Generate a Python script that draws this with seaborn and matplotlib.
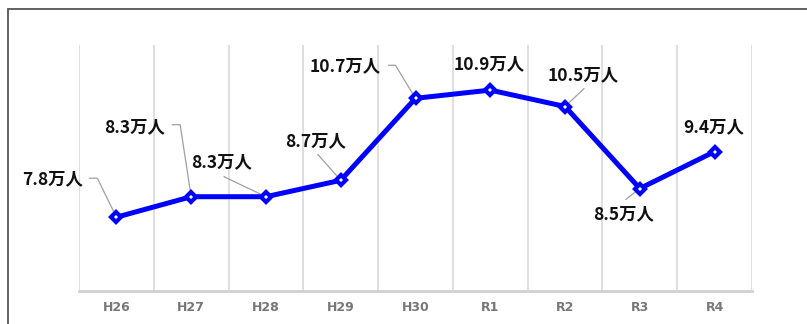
import math
import matplotlib
matplotlib.use("Agg")
import matplotlib.pyplot as plt
import numpy as np
import pandas as pd
import seaborn as sns
from matplotlib.patches import Rectangle

# data
periods = ["H26", "H27", "H28", "H29", "H30", "R1", "R2", "R3", "R4"]
visitors = [7.8, 8.3, 8.3, 8.7, 10.7, 10.9, 10.5, 8.5, 9.4]   # 万人
labels = [f"{v}万人" for v in visitors]

# label placement (pixels relative to the point) and leader start / elbow length
text_off = [(-64, 38), (-57, 69), (-44, 34), (-25, 39), (-70, 32), (-1, 26), (18, 31), (-16, -26), (-1, 24)]
leader = [((-27, 39), 8), ((-19, 72), 8), ((-42, 20), 0), ((-23, 26), 0), ((-27, 33), 7),
          None, ((19, 18), 0), ((-14, -11), 0), None]

sns.set_theme(style="white")
plt.rcParams['font.family'] = ['Noto Sans CJK JP', 'DejaVu Sans']

df = pd.DataFrame({"period": periods, "visitors": visitors})

fig = plt.figure(figsize=(8.07, 3.24), dpi=100)
ax = fig.add_axes([79 / 807, 33 / 324, 673 / 807, 246 / 324])

sns.lineplot(data=df, x="period", y="visitors", ax=ax, color="#0000ff", lw=3.6,
             marker="D", markersize=5.2, markerfacecolor="white",
             markeredgecolor="#0000ff", markeredgewidth=3.0, zorder=5)

ax.set_xlim(-0.5, len(periods) - 0.5)
ax.set_ylim(6, 12)
ax.set_xlabel("")
ax.set_ylabel("")
ax.set_yticks([])
ax.set_xticks(range(len(periods)))
ax.set_xticklabels(periods, color="#777777", fontsize=9, fontweight="bold",
                   family="DejaVu Sans")
ax.tick_params(axis="x", length=0, pad=7)

# vertical separators between categories
for b in np.arange(-0.5, len(periods), 1):
    ax.axvline(b, color="#dcdcdc", lw=1.3, zorder=1)

for s in ["top", "left", "right"]:
    ax.spines[s].set_visible(False)
ax.spines["bottom"].set_color("#d0d0d0")
ax.spines["bottom"].set_linewidth(2)

for i, (v, lab, off, ld) in enumerate(zip(visitors, labels, text_off, leader)):
    ax.annotate(lab, xy=(i, v), xytext=off, textcoords="offset pixels",
                ha="center", va="center", fontsize=12.5, fontweight="bold",
                color="#111111", zorder=6)
    if ld is not None:
        (sx, sy), el = ld
        angB = math.degrees(math.atan2(sy, sx + el))
        ax.annotate("", xy=(i, v), xytext=(sx, sy), textcoords="offset pixels",
                    arrowprops=dict(arrowstyle="-", color="#a0a0a0", lw=0.9,
                                    shrinkA=0, shrinkB=0,
                                    connectionstyle=f"angle,angleA=0,angleB={angB},rad=0"),
                    zorder=4)

# outer frame (only top and left edges visible)
fig.add_artist(Rectangle((8 / 807, -0.2), 1.2, (324 - 9) / 324 + 0.2, transform=fig.transFigure,
                         fill=False, edgecolor="#555555", lw=1.3, clip_on=False))

fig.savefig("out.png", dpi=100)
